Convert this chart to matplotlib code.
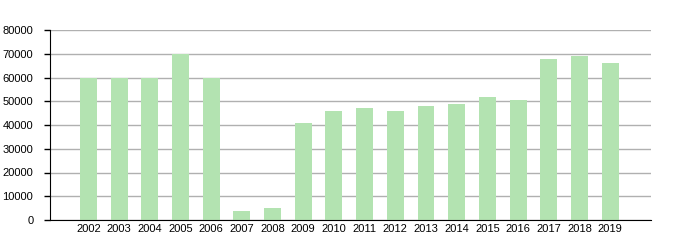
import matplotlib
matplotlib.use("Agg")
import matplotlib.pyplot as plt

years = ["2002", "2003", "2004", "2005", "2006", "2007", "2008", "2009", "2010",
         "2011", "2012", "2013", "2014", "2015", "2016", "2017", "2018", "2019"]
values = [60000, 60000, 60000, 70000, 60000, 4000, 5000, 41000, 46000,
          47000, 46000, 48000, 49000, 52000, 50500, 68000, 69000, 66000]
yticks = [0, 10000, 20000, 30000, 40000, 50000, 60000, 70000, 80000]

plt.rcParams['font.family'] = ['Liberation Sans', 'DejaVu Sans']

fig = plt.figure(figsize=(7, 2.5), dpi=100)
ax = fig.add_axes([50/700, 30/250, 601/700, 190/250])

x = list(range(len(years)))
ax.bar(x, values, width=0.55, color="#b3e3b1", zorder=2)

ax.set_xlim(-1.25, len(years) - 1 + 1.33)
ax.set_ylim(0, 80000)
ax.set_yticks(yticks)
ax.set_yticklabels([str(v) for v in yticks], fontsize=8)
ax.set_xticks(x)
ax.set_xticklabels(years, fontsize=8)
ax.tick_params(axis='x', length=0, pad=3)
ax.tick_params(axis='y', length=4, width=1, pad=8)

ax.grid(axis='y', color="#b0b0b0", linewidth=1, zorder=0)
ax.set_axisbelow(True)
for s in ['top', 'right']:
    ax.spines[s].set_visible(False)
ax.spines['left'].set_color('black')
ax.spines['bottom'].set_color('black')

fig.savefig("out.png", dpi=100)
